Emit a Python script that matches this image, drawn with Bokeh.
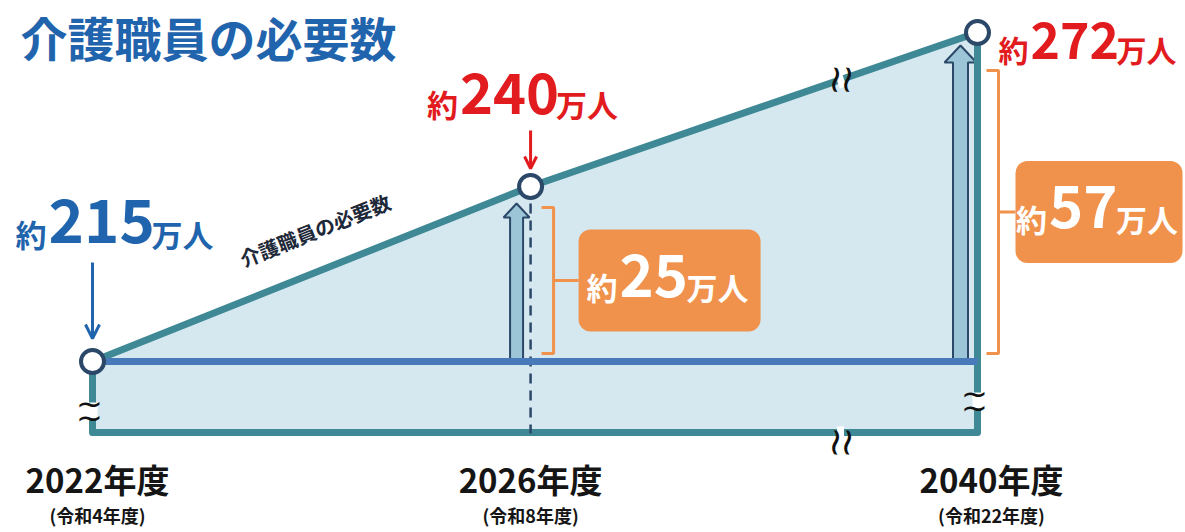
import math
from bokeh.plotting import figure
from bokeh.models import Range1d, Label, Arrow, OpenHead
from bokeh.core.properties import value
from bokeh.embed import file_html
from bokeh.resources import INLINE

# ---------------- data ----------------
TITLE = "介護職員の必要数"
SLOPE_LABEL = "介護職員の必要数"
YEARS = ["2022年度", "2026年度", "2040年度"]
REIWA = ["(令和4年度)", "(令和8年度)", "(令和22年度)"]
WORKERS = [215, 240, 272]        # 必要数 (万人)
EXTRA = [25, 57]                 # 2022年度比の増加 (万人)
XPOS = [0.0, 0.99, 2.0]          # positions on the broken (≈) time axis

# broken value axis: above BREAK_AT the scale is compressed
BREAK_AT = 240
BREAK_K = 0.6875
FLOOR = 204.86                   # bottom edge of the (broken) area

def ydisp(v):
    return v if v <= BREAK_AT else BREAK_AT + (v - BREAK_AT) * BREAK_K

# ---------------- layout ----------------
W, H = 1185, 532
PXX = 442.5      # px per x unit
PXY = 7.0        # px per 万人
x_start = -92 / PXX
x_end = x_start + W / PXX
y_end = 215 + 361 / PXY
y_start = y_end - H / PXY

FONT = "Noto Sans CJK JP"
TEAL = "#3e8995"
FILL = "#d5e8f0"
BASE = "#4879b9"
NAVY = "#2b4868"
ARROWFILL = "#9cc6d7"
ORANGE = "#f0924b"
BLUE = "#1f64ac"
RED = "#e21b1e"
MID = 0.436      # em distance from 'middle' anchor down to the alphabetic baseline

p = figure(width=W, height=H, x_range=Range1d(x_start, x_end), y_range=Range1d(y_start, y_end),
           x_axis_type=None, y_axis_type=None, toolbar_location=None, output_backend="svg",
           min_border=0, outline_line_color=None, background_fill_color="white")

ys = [ydisp(v) for v in WORKERS]
x0, x1, x2 = XPOS
y0, y1, y2 = ys

# filled area
p.patch([x0, x1, x2, x2, x0], [y0, y1, y2, FLOOR, FLOOR], fill_color=FILL, line_color=None)

# block arrows (increase)
def block_arrow(xc, ybot, ytop, shaft, head_w, head_h):
    hs = shaft / 2 / PXX
    hh = head_w / 2 / PXX
    hy = ytop - head_h / PXY
    return ([xc - hs, xc - hs, xc - hh, xc, xc + hh, xc + hs, xc + hs],
            [ybot, hy, hy, ytop, hy, hy, ybot])

for xi, yi, dxp, dtop, sh, hw, hh in [(x1, y1, -14, 17, 13, 26, 14), (x2, y2, -17, 13, 15, 32, 17)]:
    axs, ays = block_arrow(xi + dxp / PXX, y0, yi - dtop / PXY, sh, hw, hh)
    p.patch(axs, ays, fill_color=ARROWFILL, line_color=NAVY, line_width=2)

# outline of the area
p.line([x0, x1, x2, x2, x0, x0], [y0, y1, y2, FLOOR, FLOOR, y0], line_color=TEAL, line_width=7,
       line_join="round")

# dashed guide at 2026
p.line([x1, x1], [y1, FLOOR - 1 / PXY], line_color=NAVY, line_width=2.5, line_dash="10 7")

# baseline (2022 level)
p.line([x0, x2], [y0, y0], line_color=BASE, line_width=7)

# orange brackets + boxes
def bracket(xb, ytop, ybot, xbox):
    ym = (ytop + ybot) / 2
    stub = 12 / PXX
    p.line([xb - stub, xb, xb, xb - stub], [ytop, ytop, ybot, ybot], line_color=ORANGE, line_width=3)
    p.line([xb, xbox], [ym, ym], line_color=ORANGE, line_width=3)
    return ym

boxes = [
    # anchor x, anchor y, bracket dx, bracket top (px below point), box left dx, box right dx
    (x1, y1, 23, 21, 48, 230),
    (x2, y2, 21, 38, 38, 205),
]
box_mids = []
for (xa, ya, bdx, btop, bl, br) in boxes:
    xb = xa + bdx / PXX
    ym = bracket(xb, ya - btop / PXY, y0 + 8 / PXY, xa + bl / PXX)
    half = 51 / PXY
    p.quad(left=[xa + bl / PXX], right=[xa + br / PXX], bottom=[ym - half], top=[ym + half],
           fill_color=ORANGE, line_color=None, border_radius=12)
    box_mids.append(ym)

# points
p.scatter(XPOS, ys, size=23, fill_color="white", line_color=NAVY, line_width=4)

# pointer arrows
p.add_layout(Arrow(x_start=x0, y_start=y0 + 99 / PXY, x_end=x0, y_end=y0 + 23 / PXY,
                   line_color=BLUE, line_width=3,
                   end=OpenHead(line_color=BLUE, line_width=3, size=14)))
p.add_layout(Arrow(x_start=x1, y_start=y1 + 56 / PXY, x_end=x1, y_end=y1 + 18 / PXY,
                   line_color=RED, line_width=3,
                   end=OpenHead(line_color=RED, line_width=3, size=12)))

# number labels "約NNN万人"
K_DIGIT = 0.56
def num_label(xd, yd, dxc, dyb, num, big, small, color, gap=2):
    w_y = small
    w_n = K_DIGIT * big * len(num)
    w_u = 2 * small
    total = w_y + w_n + w_u + 2 * gap
    left = dxc - total / 2
    for t, off, s in [("約", left, small), (num, left + w_y + gap, big),
                      ("万人", left + w_y + w_n + 2 * gap, small)]:
        p.text(x=[xd], y=[yd], text=[t], x_offset=off, y_offset=dyb - MID * s,
               text_font=value(FONT), text_font_size=f"{s}px", text_font_style="bold",
               text_color=color, text_align="left", text_baseline="middle")

num_label(x0, y0, 22, -114, str(WORKERS[0]), 60, 31, BLUE)
num_label(x1, y1, -8, -69, str(WORKERS[1]), 56, 31, RED)
num_label(x2, y2, 110, 30, str(WORKERS[2]), 50, 30, RED, gap=2)

# labels inside orange boxes
for (xa, ya, bdx, btop, bl, br), ym, extra in zip(boxes, box_mids, EXTRA):
    num_label(xa, ym, (bl + br) / 2 - 2, 20, str(extra), 58, 31, "white")

# slope label
t = 0.54
ang = math.atan2((y1 - y0) * PXY, (x1 - x0) * PXX)
p.text(x=[x0 + t * (x1 - x0)], y=[y0 + t * (y1 - y0)], text=[SLOPE_LABEL],
       x_offset=-14, y_offset=-37, angle=ang, text_font=value(FONT), text_font_size="20px",
       text_font_style="bold", text_color="#1d2838", text_align="center", text_baseline="middle")

# year labels
YEAR_DX = [5, 0, 14]
p.text(x=XPOS, y=[FLOOR] * 3, text=YEARS, x_offset=YEAR_DX, y_offset=61 - MID * 33,
       text_font=value(FONT), text_font_size="33px", text_font_style="bold",
       text_color="#151515", text_align="center", text_baseline="middle")
p.text(x=XPOS, y=[FLOOR] * 3, text=REIWA, x_offset=YEAR_DX, y_offset=83,
       text_font=value(FONT), text_font_size="18px", text_font_style="bold",
       text_color="#151515", text_align="center", text_baseline="middle")

# break marks (≈)
def vbreak(xd, yd, dy=0):
    for o in (-6, 6):
        p.text(x=[xd], y=[yd], text=["~"], x_offset=o, y_offset=dy, angle=math.pi / 2 - 0.12,
               text_font=value("DejaVu Sans"), text_font_size="38px", text_color="#111111",
               text_align="center", text_baseline="middle")

def hbreak(xd, yd, dy):
    for o in (-7, 7):
        p.text(x=[xd], y=[yd], text=["~"], x_offset=-3, y_offset=dy + o,
               text_font=value("DejaVu Sans"), text_font_size="32px", text_color="#111111",
               text_align="center", text_baseline="middle")

# gaps in the outline under the break marks
xm = x0 + (840 - 92) / PXX
ym_s = y1 + (xm - x1) / (x2 - x1) * (y2 - y1)
ang2 = math.atan2((y2 - y1) * PXY, (x2 - x1) * PXX)
p.rect([xm], [ym_s], width=7, height=16, width_units="screen", height_units="screen",
       angle=ang2, fill_color="white", line_color=None)
p.rect([xm], [FLOOR], width=7, height=12, width_units="screen", height_units="screen",
       fill_color="white", line_color=None)
p.rect([x0, x2], [y0 - 49 / PXY, y0 - 39 / PXY], width=10, height=16, width_units="screen",
       height_units="screen", fill_color="white", line_color=None)

vbreak(xm, ym_s)
vbreak(xm, FLOOR, dy=10)
hbreak(x0, y0, 49)
hbreak(x2, y2, 368)

# title
p.add_layout(Label(x=20, y=H - 36, x_units="screen", y_units="screen", text=TITLE,
                   text_font=FONT, text_font_size="47px", text_font_style="bold",
                   text_color=BLUE, text_align="left", text_baseline="middle"))

open("out.html", "w").write(file_html(p, INLINE))
